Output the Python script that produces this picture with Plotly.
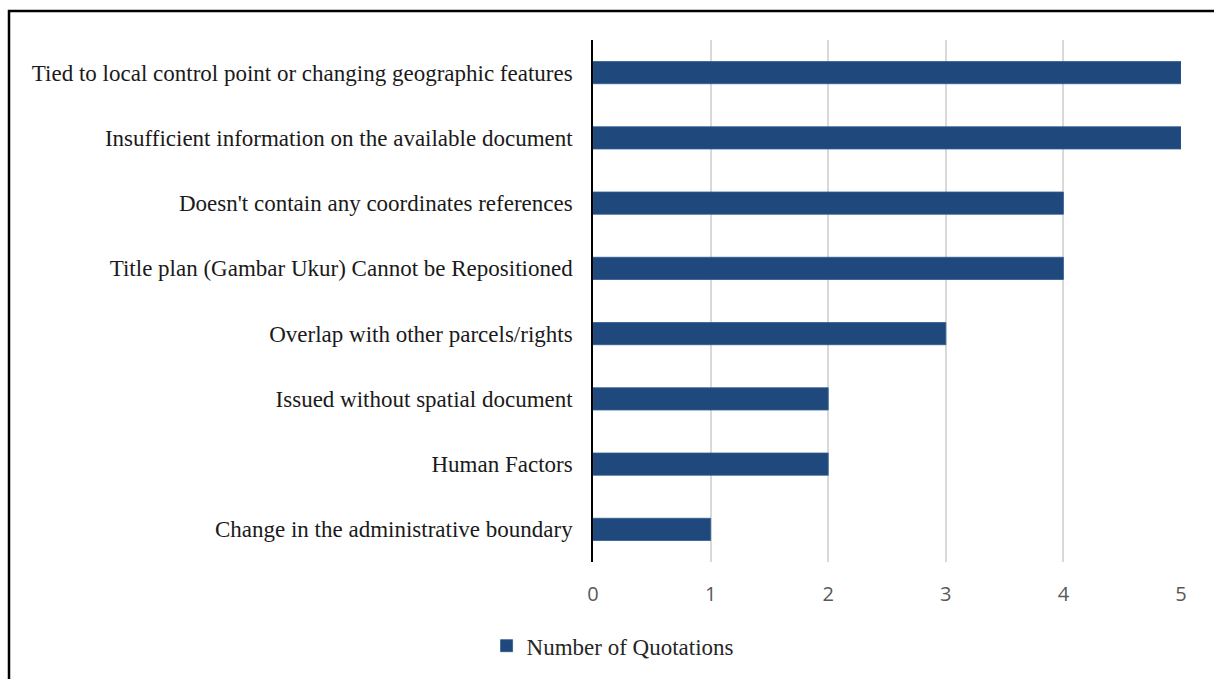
import plotly.graph_objects as go

categories = [
    "Tied to local control point or changing geographic features",
    "Insufficient information on the available document",
    "Doesn't contain any coordinates references",
    "Title plan (Gambar Ukur) Cannot be Repositioned",
    "Overlap with other parcels/rights",
    "Issued without spatial document",
    "Human Factors",
    "Change in the administrative boundary",
]
quotations = [5, 5, 4, 4, 3, 2, 2, 1]
tick_values = [0, 1, 2, 3, 4, 5]

W, H = 1214, 679
ML, MR, MT, MB = 593, 33, 40, 117
plot_w = W - ML - MR
plot_h = H - MT - MB

fig = go.Figure()
fig.add_trace(go.Bar(
    y=categories,
    x=quotations,
    orientation="h",
    name="Number of Quotations",
    width=0.34,
    marker=dict(color="#1f497d", line=dict(color="#2e5a8e", width=0.8)),
))

# outer frame (drawn in paper coordinates, extending past the page on right/bottom)
fig.add_shape(
    type="rect", xref="paper", yref="paper",
    x0=(9 - ML) / plot_w, x1=(W + 20 - ML) / plot_w,
    y0=(H - MB - (H + 20)) / plot_h, y1=(H - MB - 11) / plot_h,
    line=dict(color="black", width=2.5), layer="above",
)

serif = "Liberation Serif"

fig.update_layout(
    width=W, height=H,
    margin=dict(l=ML, r=MR, t=MT, b=MB),
    plot_bgcolor="white", paper_bgcolor="white",
    showlegend=True,
    legend=dict(
        orientation="h", xref="container", yref="container",
        x=0.505, xanchor="center", y=0.049, yanchor="middle",
        font=dict(family=serif, size=23, color="#262626"),
        itemwidth=30,
    ),
    xaxis=dict(
        range=[0, 5], tickvals=tick_values,
        showgrid=True, gridcolor="#d9d9d9", gridwidth=2,
        zeroline=False, showline=False,
        tickfont=dict(family="Open Sans, sans-serif", size=20, color="#595959"),
        ticks="", ticklabelstandoff=18,
    ),
    yaxis=dict(
        categoryorder="array", categoryarray=categories[::-1],
        range=[-0.5, 7.5],
        showgrid=False, zeroline=False,
        showline=True, linecolor="black", linewidth=1.5,
        tickfont=dict(family=serif, size=23, color="#1a1a1a"),
        ticks="", ticklabelstandoff=14,
    ),
)

fig.write_html("out.html")
